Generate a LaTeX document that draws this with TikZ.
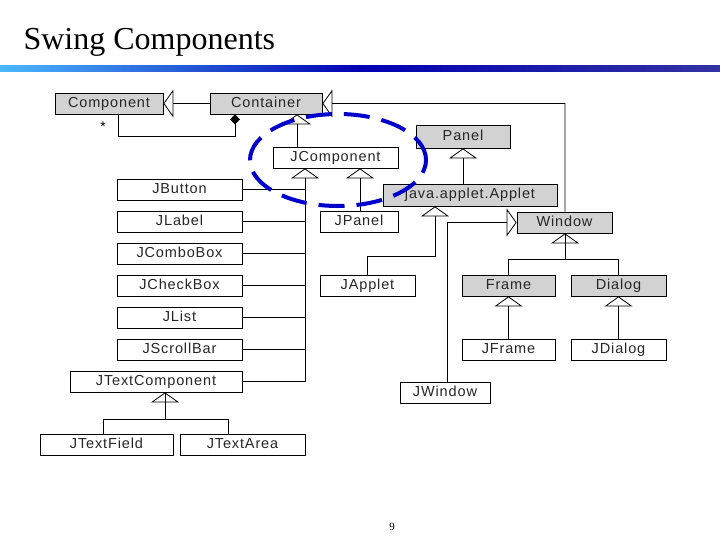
\documentclass[tikz,border=0pt]{standalone}
\usepackage{fontspec}
\setmainfont{Liberation Serif}
\newfontfamily\boxfont[LetterSpace=6]{Liberation Sans}
\usetikzlibrary{arrows.meta}
\begin{document}
\begin{tikzpicture}[x=1pt,y=-1pt,
  box/.style={draw,thick,fill=white,inner sep=0pt,text height=10pt,text depth=2pt,font=\boxfont\fontsize{14.5}{14.5}\selectfont,text=black!85},
  awt/.style={box,fill=gray!35},
  inh/.style={thick,-{Triangle[open,length=10pt,width=28pt]}},
  comp/.style={thick,{Diamond[length=10pt,width=10pt]}-}]
\useasboundingbox (0,0) rectangle (720,540);
\node[anchor=base west,font=\fontsize{32}{32}\selectfont] (title) at (20,50) {Swing Components};
\shade[left color=cyan!60!blue!70,right color=blue!55!black!80,middle color=blue!70!black] (0,66) rectangle (720,72);
\node[font=\fontsize{11}{11}\selectfont] (pg) at (392,527) {9};
% boxes
\def\bx#1#2#3#4#5#6#7{\node[#1,minimum width={#5-#3},minimum height={#6-#4}] (#2) at ({(#3+#5)/2},{(#4+#6)/2}) {#7};}
\bx{awt}{Component}{55}{93}{163}{114}{Component}
\bx{awt}{Container}{210}{93}{322}{114}{Container}
\bx{awt}{Panel}{416}{125}{510}{148}{Panel}
\bx{awt}{Applet}{383}{184}{557}{206}{java.applet.Applet}
\bx{awt}{Window}{517}{212}{612}{233}{Window}
\bx{awt}{Frame}{462}{275}{555}{296}{Frame}
\bx{awt}{Dialog}{571}{275}{666}{296}{Dialog}
\bx{box}{JComponent}{273}{147}{398}{168}{JComponent}
\bx{box}{JButton}{117}{179}{242}{200}{JButton}
\bx{box}{JLabel}{117}{211}{242}{232}{JLabel}
\bx{box}{JComboBox}{117}{243}{242}{264}{JComboBox}
\bx{box}{JCheckBox}{117}{275}{242}{296}{JCheckBox}
\bx{box}{JList}{117}{307}{242}{328}{JList}
\bx{box}{JScrollBar}{117}{339}{242}{360}{JScrollBar}
\bx{box}{JTextComponent}{70}{371}{242}{392}{JTextComponent}
\bx{box}{JTextField}{40}{434}{173}{455}{JTextField}
\bx{box}{JTextArea}{180}{434}{305}{455}{JTextArea}
\bx{box}{JPanel}{320}{211}{398}{232}{JPanel}
\bx{box}{JApplet}{320}{275}{415}{296}{JApplet}
\bx{box}{JWindow}{400}{382}{490}{403}{JWindow}
\bx{box}{JFrame}{462}{339}{555}{360}{JFrame}
\bx{box}{JDialog}{571}{339}{666}{360}{JDialog}
% coordinates
\coordinate (tr) at (305,0);
\coordinate (jp) at (360,0);
\coordinate (ap) at (435,0);
\coordinate (jw) at (447,0);
\coordinate (cn) at (297,0);
\coordinate (wx) at (565,0);
\coordinate (cd) at (235,0);
\coordinate (cm) at (118,0);
% Container -> Component
\draw[inh] (Container.west) -- (Component.east);
\draw[comp] (Container.south -| cd) -- ++(0,22) -| (Component.south -| cm);
\node[font=\boxfont\fontsize{14}{14}\selectfont] (star) at (103,127) {*};
\draw[inh] (JComponent.north -| cn) -- (Container.south -| cn);
\draw[inh] (Window.north -| wx) -- ++(0,-108) -- (Container.east);
% JComponent subclasses
\foreach \n in {JButton,JLabel,JComboBox,JCheckBox,JList,JScrollBar}
  \draw[thick] (\n.east) -- (\n.east -| tr);
\draw[inh] (JTextComponent.east) -| (JComponent.south -| tr);
\draw[inh] (JPanel.north -| jp) -- (JComponent.south -| jp);
% Applet
\draw[inh] (Applet.north -| Panel.south) -- (Panel.south);
\draw[inh] (JApplet.north) -- ++(0,-18) -| (Applet.south -| ap);
\draw[inh] (JWindow.north -| jw) |- (Window.west);
% Window
\draw[inh] (Frame.north) -- ++(0,-15) -| (Window.south -| wx);
\draw[thick] (Dialog.north) -- ++(0,-15) -| (Window.south -| wx);
\draw[inh] (JFrame.north) -- (Frame.south);
\draw[inh] (JDialog.north) -- (Dialog.south);
% JTextComponent
\draw[inh] (JTextField.north -| 103,0) -- ++(0,-14) -| (JTextComponent.south -| 165,0);
\draw[thick] (JTextArea.north -| 228,0) -- ++(0,-14) -| (JTextComponent.south -| 165,0);
% ellipse
\draw[blue!80!black,line width=4pt,dash pattern=on 26pt off 12pt] (338,160) ellipse [x radius=88pt,y radius=46pt];
\end{tikzpicture}
\end{document}
